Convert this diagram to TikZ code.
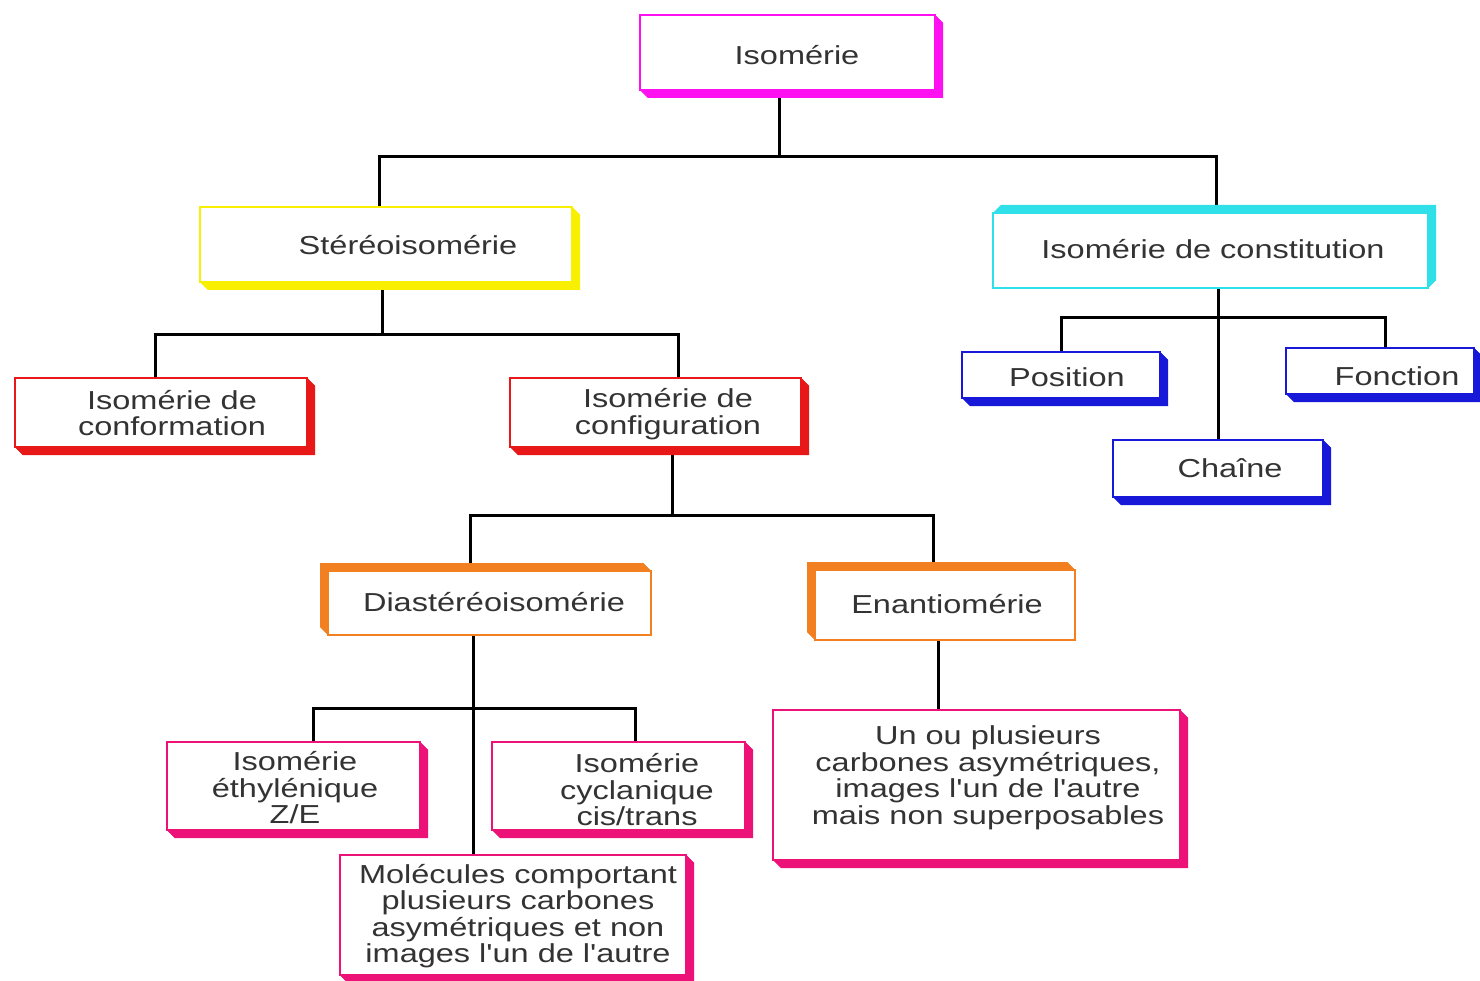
\documentclass[tikz,border=0pt]{standalone}
\usepackage{fontspec}
\setmainfont[FakeStretch=1.25]{Liberation Sans}
\newfontfamily\plainfont[FakeStretch=1.25]{Liberation Sans}
\pgfdeclarelayer{background}
\pgfsetlayers{background,main}
\definecolor{cMag}{HTML}{FF10F0}
\definecolor{cYel}{HTML}{F8F000}
\definecolor{cCya}{HTML}{30E0E8}
\definecolor{cBlu}{HTML}{1818D8}
\definecolor{cRed}{HTML}{E81818}
\definecolor{cOra}{HTML}{F28020}
\definecolor{cPin}{HTML}{EC1278}
\definecolor{txtc}{HTML}{333333}
\newcommand\ap{{\plainfont'}}
\tikzset{
  frontbox/.style={draw=#1, fill=white, line width=1.6pt, inner sep=0pt, rectangle},
  txt/.style={align=center, inner sep=0pt, text=txtc, font=\fontsize{26}{26.5}\selectfont},
  conn/.style={draw=black, line width=3pt},
}
% #1 name, #2 colour, #3 dx, #4 dy, #5 x1, #6 y1, #7 x2, #8 y2
\newcommand\isobox[8]{%
  \fill[#2] ({#5+#3},{#6+#4}) rectangle ({#7+#3},{#8+#4});
  \fill[#2] (#5,#6) -- ({#5+#3},{#6+#4}) -- ({#7+#3},{#6+#4}) -- (#7,#6) -- cycle;
  \fill[#2] (#7,#6) -- ({#7+#3},{#6+#4}) -- ({#7+#3},{#8+#4}) -- (#7,#8) -- cycle;
  \fill[#2] (#7,#8) -- ({#7+#3},{#8+#4}) -- ({#5+#3},{#8+#4}) -- (#5,#8) -- cycle;
  \fill[#2] (#5,#8) -- ({#5+#3},{#8+#4}) -- ({#5+#3},{#6+#4}) -- (#5,#6) -- cycle;
  \node[frontbox=#2, minimum width={(#7-#5)*1pt}, minimum height={(#8-#6)*1pt}] (#1) at ({(#5+#7)/2},{(#6+#8)/2}) {};
}
\begin{document}
\begin{tikzpicture}[x=1pt,y=-1pt]
\useasboundingbox (0,0) rectangle (1480,981);

\isobox{iso}{cMag}{8}{8}{640}{15}{935}{90}
\isobox{stereo}{cYel}{8}{8}{200}{207}{572}{282}
\isobox{const}{cCya}{8}{-8}{993}{213}{1428}{288}
\isobox{pos}{cBlu}{8}{8}{962}{352}{1160}{398}
\isobox{fonc}{cBlu}{8}{8}{1286}{348}{1474}{394}
\isobox{chaine}{cBlu}{8}{8}{1113}{440}{1323}{497}
\isobox{conf}{cRed}{8}{8}{15}{378}{307}{447}
\isobox{config}{cRed}{8}{8}{510}{378}{801}{447}
\isobox{dia}{cOra}{-8}{-8}{328}{571}{651}{635}
\isobox{enan}{cOra}{-8}{-8}{815}{570}{1075}{640}
\isobox{ze}{cPin}{8}{8}{167}{742}{420}{830}
\isobox{cis}{cPin}{8}{8}{492}{742}{745}{830}
\isobox{mol}{cPin}{8}{8}{340}{855}{686}{975}
\isobox{un}{cPin}{8}{8}{773}{710}{1180}{860}

\node[txt] (isoT) at (797,55) {Isomérie};
\node[txt] (stereoT) at (408,245) {Stéréoisomérie};
\node[txt] (constT) at (1213,249) {Isomérie de constitution};
\node[txt] (posT) at (1067,377) {Position};
\node[txt] (foncT) at (1397,376) {Fonction};
\node[txt] (chaineT) at (1230,468) {Chaîne};
\node[txt] (confT) at (172,413) {Isomérie de\\conformation};
\node[txt] (configT) at (668,414) {Isomérie de\\configuration};
\node[txt] (diaT) at (494,602) {Diastéréoisomérie};
\node[txt] (enanT) at (947,604) {Enantiomérie};
\node[txt] (zeT) at (295,788) {Isomérie\\éthylénique\\Z/E};
\node[txt] (cisT) at (637,790) {Isomérie\\cyclanique\\cis/trans};
\node[txt] (molT) at (518,916) {Molécules comportant\\plusieurs carbones\\asymétriques et non\\images l\ap un de l\ap autre};
\node[txt] (unT) at (988,778) {Un ou plusieurs\\carbones asymétriques,\\images l\ap un de l\ap autre\\mais non superposables};

\coordinate (h1) at (0,157);
\coordinate (h2) at (0,335);
\coordinate (h3) at (0,318);
\coordinate (h4) at (0,515);
\coordinate (h5) at (0,708);

\begin{pgfonlayer}{background}
% Isomerie
\coordinate (a1) at ([xshift=-8pt]iso.south);
\draw[conn] (a1) -- (a1 |- h1);
\draw[conn] ([xshift=-7pt]stereo.north) |- (a1 |- h1) -| ([xshift=6pt]const.north);
% Stereo
\coordinate (b1) at ([xshift=-4pt]stereo.south);
\draw[conn] (b1) -- (b1 |- h2);
\draw[conn] ([xshift=-6pt]conf.north) |- (b1 |- h2) -| ([xshift=23pt]config.north);
% Constitution
\coordinate (c1) at ([xshift=8pt]const.south);
\draw[conn] (c1) -- (c1 |- chaine.north);
\draw[conn] (pos.north) |- (c1 |- h3) -| ([xshift=5pt]fonc.north);
% Configuration
\coordinate (d1) at ([xshift=17pt]config.south);
\draw[conn] (d1) -- (d1 |- h4);
\draw[conn] ([xshift=-19pt]dia.north) |- (d1 |- h4) -| ([xshift=-12pt]enan.north);
% Diastereo
\coordinate (e1) at ([xshift=-16pt]dia.south);
\draw[conn] (e1) -- (e1 |- mol.north);
\draw[conn] ([xshift=20pt]ze.north) |- (e1 |- h5) -| ([xshift=17pt]cis.north);
% Enantio
\coordinate (f1) at ([xshift=-7pt]enan.south);
\draw[conn] (f1) -- (f1 |- un.north);
\end{pgfonlayer}
\end{tikzpicture}
\end{document}
